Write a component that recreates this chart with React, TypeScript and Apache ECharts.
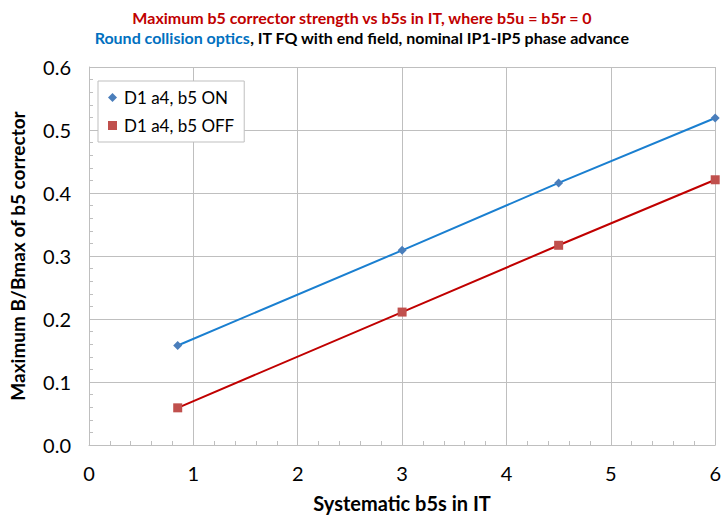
import React, { useEffect, useRef } from "react";
import * as echarts from "echarts";

const xValues = [0.85, 3, 4.5, 6];
const seriesOn = [0.158, 0.309, 0.416, 0.519];
const seriesOff = [0.059, 0.211, 0.317, 0.421];
const seriesNames = ["D1 a4, b5 ON", "D1 a4, b5 OFF"];
const titleLine1 = "Maximum b5 corrector strength vs b5s in IT, where b5u = b5r = 0";
const titleLine2Blue = "Round collision optics";
const titleLine2Rest = ", IT FQ with end field, nominal IP1-IP5 phase advance";
const xAxisName = "Systematic b5s in IT";
const yAxisName = "Maximum B/Bmax of b5 corrector";

const FONT = "Lato, 'Open Sans', sans-serif";

export default function App() {
  const ref = useRef<HTMLDivElement>(null);
  useEffect(() => {
    if (!ref.current) return;
    const chart = echarts.init(ref.current, undefined, { renderer: "svg" });
    const gridColor = "#bfbfbf";
    chart.setOption({
      animation: false,
      backgroundColor: "#ffffff",
      textStyle: { fontFamily: FONT },
      title: [
        {
          text: titleLine1,
          left: "center",
          top: 4,
          textStyle: { color: "#c00000", fontSize: 16, fontWeight: "bold", fontFamily: FONT },
        },
        {
          text: "{b|" + titleLine2Blue + "}{k|" + titleLine2Rest + "}",
          left: "center",
          top: 24,
          textStyle: {
            rich: {
              b: { color: "#0070c0", fontSize: 16, fontWeight: "bold", fontFamily: FONT },
              k: { color: "#000000", fontSize: 16, fontWeight: "bold", fontFamily: FONT },
            },
          },
        },
      ],
      legend: {
        data: [
          { name: seriesNames[0], icon: "diamond" },
          { name: seriesNames[1], icon: "rect" },
        ],
        orient: "vertical",
        left: 98,
        top: 81,
        width: 144,
        padding: [8, 10, 8, 10],
        itemGap: 11,
        itemWidth: 9,
        itemHeight: 9,
        backgroundColor: "#ffffff",
        borderColor: "#bfbfbf",
        borderWidth: 1,
        textStyle: { fontSize: 17, color: "#000", fontFamily: FONT, padding: [0, 0, 0, 2] },
      },
      grid: { left: 83, right: 8, top: 67, bottom: 68, containLabel: false },
      xAxis: {
        type: "value",
        min: 0,
        max: 6,
        interval: 1,
        name: xAxisName,
        nameLocation: "middle",
        nameGap: 48,
        nameTextStyle: { fontSize: 20, fontWeight: "bold", color: "#000", fontFamily: FONT },
        axisLine: { show: true, lineStyle: { color: gridColor, width: 1 } },
        axisTick: { show: true, inside: true, length: 4, lineStyle: { color: gridColor } },
        minorTick: { show: true, splitNumber: 5, length: 4, lineStyle: { color: gridColor } },
        axisLabel: { fontSize: 20, color: "#000", margin: 18, fontFamily: FONT },
        splitLine: { show: true, lineStyle: { color: gridColor, width: 1 } },
      },
      yAxis: {
        type: "value",
        min: 0,
        max: 0.6,
        interval: 0.1,
        name: yAxisName,
        nameLocation: "middle",
        nameGap: 62,
        nameTextStyle: { fontSize: 19, fontWeight: "bold", color: "#000", fontFamily: FONT },
        axisLine: { show: true, lineStyle: { color: gridColor, width: 1 } },
        axisTick: { show: true, inside: true, length: 4, lineStyle: { color: gridColor } },
        minorTick: { show: true, splitNumber: 5, length: 4, lineStyle: { color: gridColor } },
        axisLabel: {
          fontSize: 20,
          color: "#000",
          margin: 18,
          fontFamily: FONT,
          formatter: (v: number) => v.toFixed(1),
        },
        splitLine: { show: true, lineStyle: { color: gridColor, width: 1 } },
      },
      series: [
        {
          name: seriesNames[0],
          type: "line",
          data: xValues.map((x, i) => [x, seriesOn[i]]),
          symbol: "diamond",
          symbolSize: 9,
          itemStyle: { color: "#4a7ebb" },
          lineStyle: { color: "#1a7fd0", width: 2 },
        },
        {
          name: seriesNames[1],
          type: "line",
          data: xValues.map((x, i) => [x, seriesOff[i]]),
          symbol: "rect",
          symbolSize: 9,
          itemStyle: { color: "#c0504d" },
          lineStyle: { color: "#c00000", width: 2 },
        },
      ],
    });
    return () => chart.dispose();
  }, []);
  return <div ref={ref} style={{ width: 724, height: 518, position: "absolute", left: 0, top: 0 }} />;
}
